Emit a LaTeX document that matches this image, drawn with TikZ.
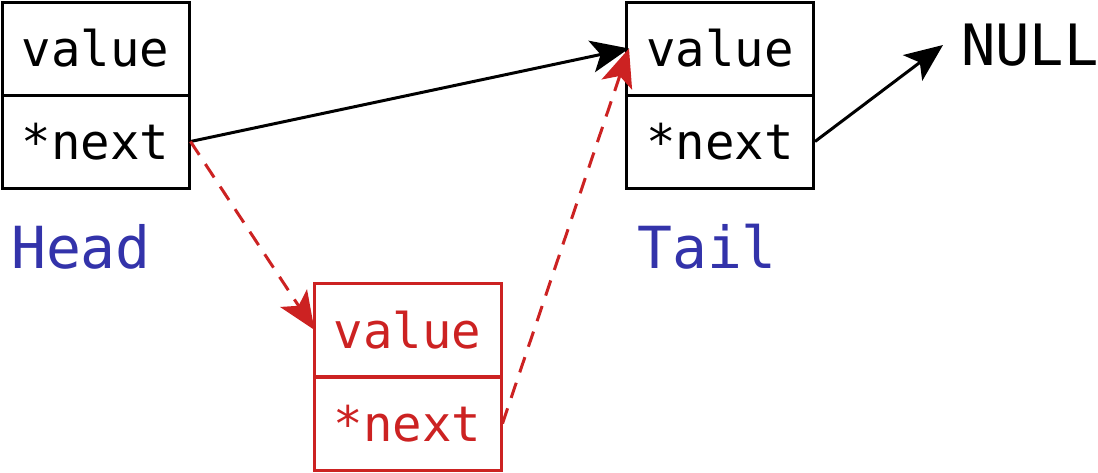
\documentclass[tikz,border=0pt]{standalone}
\usepackage{fontspec}
\setmonofont{DejaVu Sans Mono}
\usetikzlibrary{arrows.meta}
\definecolor{rd}{HTML}{CC2222}
\definecolor{bl}{HTML}{3333AA}
\begin{document}
\begin{tikzpicture}[x=1pt,y=-1pt,
  cell/.style={draw,line width=3pt,minimum width=187pt,minimum height=93pt,inner sep=0pt,font=\ttfamily\fontsize{49}{56}\selectfont},
  lbl/.style={inner sep=0pt,font=\ttfamily\fontsize{58}{64}\selectfont,text=bl},
  arr/.style={line width=3pt,-{Stealth[length=38pt,width=32pt,inset=9pt]}},
  darr/.style={arr,rd,dash pattern=on 16pt off 11pt}]
\useasboundingbox (0,0) rectangle (1098,472);
\node[cell] (hv) at (95.5,48.5) {value};
\node[cell] (hn) at (95.5,141.5) {*next};
\node[cell] (tv) at (720,48.5) {value};
\node[cell] (tn) at (720,141.5) {*next};
\node[cell,draw=rd,text=rd] (rv) at (407.5,330) {value};
\node[cell,draw=rd,text=rd] (rn) at (407.5,423.5) {*next};
\node[lbl] (head) at (81,247) {Head};
\node[lbl] (tail) at (707,247) {Tail};
\node[inner sep=0pt,font=\ttfamily\fontsize{57}{64}\selectfont,anchor=west] (null) at (961,45) {NULL};
\coordinate (nullend) at (943,45);
\draw[arr] (hn.east) -- ([xshift=4pt]tv.west);
\draw[arr] (tn.east) -- (nullend);
\draw[darr] (hn.east) -- ([xshift=2pt]rv.west);
\draw[darr] (rn.east) -- ([xshift=4pt]tv.west);
\end{tikzpicture}
\end{document}
